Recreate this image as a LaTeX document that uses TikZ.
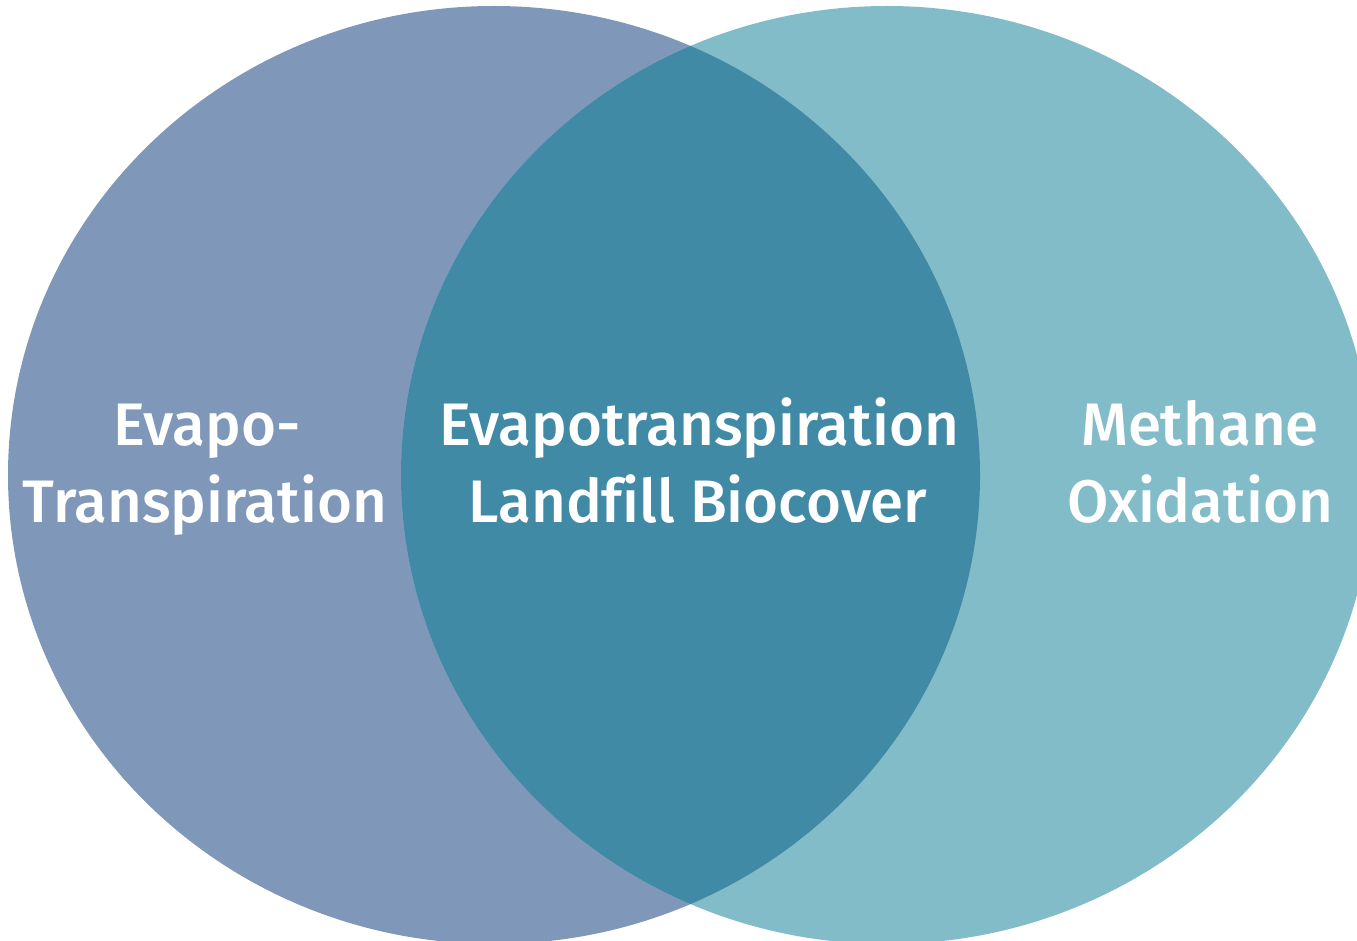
\documentclass[tikz,border=0pt]{standalone}
\usepackage{fontspec}
\setmainfont{Fira Sans Medium}[Ligatures=NoCommon]
\definecolor{leftc}{HTML}{7F97B8}
\definecolor{rightc}{HTML}{82BCC8}
\definecolor{midc}{HTML}{418AA5}
\tikzset{
  lbl/.style={text=white, anchor=base, inner sep=0pt, font=\fontsize{60}{72}\selectfont},
}
\begin{document}
\begin{tikzpicture}[x=1pt,y=-1pt]
\useasboundingbox (0,0) rectangle (1357,941);
\clip (0,0) rectangle (1357,941);
\fill[leftc] (494,475) ellipse [x radius=486, y radius=469];
\fill[rightc] (887,475) ellipse [x radius=486, y radius=469];
\begin{scope}
  \clip (494,475) ellipse [x radius=486, y radius=469];
  \fill[midc] (887,475) ellipse [x radius=486, y radius=469];
\end{scope}
\node[lbl] (l1) at (207,445) {Evapo-};
\node[lbl] (l2) at (205,522) {Transpiration};
\node[lbl] (c1) at (699,445) {Evapotranspiration};
\node[lbl] (c2) at (698,522) {Landfill Biocover};
\node[lbl] (r1) at (1200,445) {Methane};
\node[lbl] (r2) at (1200,522) {Oxidation};
\end{tikzpicture}
\end{document}
